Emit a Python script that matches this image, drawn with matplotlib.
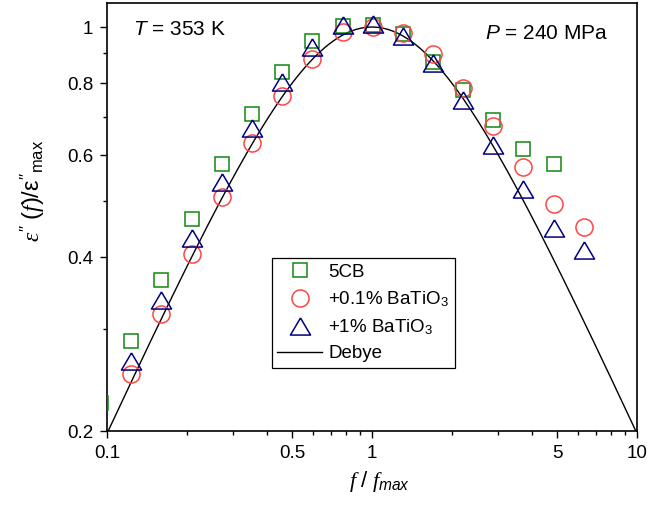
import numpy as np
import matplotlib
matplotlib.use('Agg')
from matplotlib import pyplot as plt
from matplotlib.lines import Line2D

# normalized frequency f/fmax for the measured points
f_5cb = [0.095, 0.123, 0.160, 0.209, 0.272, 0.352, 0.457, 0.594, 0.778,
         1.01, 1.31, 1.70, 2.20, 2.86, 3.71, 4.86]
eps_5cb = [0.224, 0.286, 0.365, 0.465, 0.579, 0.707, 0.836, 0.946, 1.004,
           1.008, 0.972, 0.870, 0.778, 0.690, 0.615, 0.579]

f_bt01 = [0.123, 0.160, 0.209, 0.272, 0.352, 0.457, 0.594, 0.778,
          1.01, 1.31, 1.70, 2.20, 2.86, 3.71, 4.86, 6.31]
eps_bt01 = [0.251, 0.319, 0.405, 0.508, 0.630, 0.760, 0.880, 0.980,
            1.002, 0.976, 0.898, 0.784, 0.674, 0.573, 0.494, 0.451]

f_bt1 = [0.123, 0.160, 0.209, 0.272, 0.352, 0.457, 0.594, 0.778,
         1.01, 1.31, 1.70, 2.20, 2.86, 3.71, 4.86, 6.31]
eps_bt1 = [0.264, 0.337, 0.432, 0.539, 0.669, 0.803, 0.923, 1.008,
           1.012, 0.965, 0.866, 0.748, 0.625, 0.525, 0.449, 0.411]

xticks = [0.1, 0.5, 1, 5, 10]
xticklabels = ['0.1', '0.5', '1', '5', '10']
yticks = [0.2, 0.4, 0.6, 0.8, 1.0]
yticklabels = ['0.2', '0.4', '0.6', '0.8', '1']


def main():
    plt.rcParams['font.family'] = ['Liberation Sans', 'DejaVu Sans']
    plt.rcParams['mathtext.fontset'] = 'custom'
    plt.rcParams['mathtext.rm'] = 'Liberation Sans'
    plt.rcParams['mathtext.it'] = 'Liberation Serif:italic'
    plt.rcParams['mathtext.sf'] = 'Liberation Sans:italic'

    fig = plt.figure(figsize=(6.5, 5.05), dpi=100)
    ax = fig.add_axes([0.1646, 0.1465, 0.8154, 0.8475])

    # Debye relaxation curve
    x = np.logspace(-1, 1, 300)
    ax.plot(x, 2 * x / (1 + x ** 2), color='black', lw=1.0, zorder=2)

    green = '#118811'
    red = '#ff4444'
    blue = '#000080'
    tri = [(0, 0.85), (-1, -0.85), (1, -0.85), (0, 0.85)]

    ax.plot(f_5cb, eps_5cb, ls='none', marker='s', ms=10.5, mfc='none',
            mec=green, mew=1.1, zorder=3)
    ax.plot(f_bt01, eps_bt01, ls='none', marker='o', ms=12.3, mfc='none',
            mec=red, mew=1.1, zorder=3)
    ax.plot(f_bt1, eps_bt1, ls='none', marker=tri, ms=14.5, mfc='none',
            mec=blue, mew=1.1, zorder=4)

    ax.set_xscale('log')
    ax.set_yscale('log')
    ax.set_xlim(0.1, 10)
    ax.set_ylim(0.2, 1.1003)

    ax.set_xticks(xticks)
    ax.set_xticklabels(xticklabels)
    ax.set_xticks([0.2, 0.3, 0.4, 0.6, 0.7, 0.8, 0.9,
                   2, 3, 4, 6, 7, 8, 9], minor=True)
    ax.set_yticks(yticks)
    ax.set_yticklabels(yticklabels)
    ax.set_yticks([0.3, 0.5, 0.7, 0.9], minor=True)
    ax.yaxis.set_minor_formatter(matplotlib.ticker.NullFormatter())
    ax.xaxis.set_minor_formatter(matplotlib.ticker.NullFormatter())
    ax.tick_params(which='major', direction='out', length=5, width=1.0,
                   labelsize=13.5, pad=5)
    ax.tick_params(which='minor', direction='out', length=3, width=1.0)
    for s in ax.spines.values():
        s.set_linewidth(1.2)

    ax.set_xlabel(r"$f\ /\ f_{\mathsf{max}}$", fontsize=16)
    ax.xaxis.set_label_coords(0.515, -0.088)
    ax.set_ylabel(r"$\varepsilon''\ (f)/\mathrm{\varepsilon}''_{\mathrm{max}}$",
                  fontsize=17)
    ax.yaxis.set_label_coords(-0.113, 0.56)

    ax.text(0.049, 0.925, r"$\mathsf{T}$ = 353 K", transform=ax.transAxes,
            fontsize=15, va='baseline', ha='left')
    ax.text(0.945, 0.916, r"$\mathsf{P}$ = 240 MPa", transform=ax.transAxes,
            fontsize=15, va='baseline', ha='right')

    handles = [
        Line2D([], [], ls='none', marker='s', ms=10.5, mfc='none', mec=green, mew=1.1),
        Line2D([], [], ls='none', marker='o', ms=12.3, mfc='none', mec=red, mew=1.1),
        Line2D([], [], ls='none', marker=tri, ms=14.5, mfc='none', mec=blue, mew=1.1),
        Line2D([], [], color='black', lw=1.0),
    ]
    labels = ['5CB', r'+0.1% BaTiO$_3$', r'+1% BaTiO$_3$', 'Debye']
    leg = ax.legend(handles, labels, loc='lower left',
                    bbox_to_anchor=(0.311, 0.147), fontsize=13.5,
                    frameon=True, fancybox=False, framealpha=1,
                    edgecolor='black', handlelength=2.4, handletextpad=0.3,
                    labelspacing=0.45, borderpad=0.3, borderaxespad=0)
    leg.get_frame().set_linewidth(0.9)

    fig.savefig('out.png', dpi=100)


if __name__ == '__main__':
    main()
